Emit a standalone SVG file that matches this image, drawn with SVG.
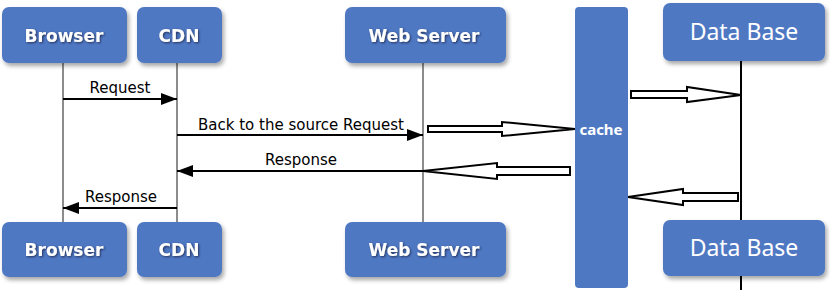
<svg xmlns="http://www.w3.org/2000/svg" width="830" height="292" viewBox="0 0 830 292">
<style>
.box{fill:#4f78c3;}
.lbl{font-family:"DejaVu Sans",Verdana,sans-serif;font-weight:bold;font-size:17px;fill:#ffffff;text-anchor:middle;}
.db{font-family:"Noto Sans","Open Sans",sans-serif;font-size:23px;fill:#ffffff;text-anchor:middle;}
.life{stroke:#8c8c8c;stroke-width:2;fill:none;}
.msg{stroke:#000000;stroke-width:2;fill:none;}
.mt{font-family:"DejaVu Sans",Tahoma,sans-serif;font-size:15px;fill:#000000;text-anchor:middle;}
.blk{fill:#ffffff;stroke:#000000;stroke-width:2;stroke-linejoin:miter;}
</style>
<defs>
<filter id="sh" x="-10%" y="-10%" width="125%" height="135%">
<feDropShadow dx="2" dy="3" stdDeviation="2" flood-color="#000000" flood-opacity="0.35"/>
</filter>
<filter id="ts" x="-10%" y="-20%" width="130%" height="160%">
<feDropShadow dx="1" dy="1" stdDeviation="0.8" flood-color="#1a2a50" flood-opacity="0.9"/>
</filter>
<marker id="ah" viewBox="0 0 16 12" refX="16" refY="6" markerWidth="16" markerHeight="12" markerUnits="userSpaceOnUse" orient="auto">
<path d="M0,0 L16,6 L0,12 Z" fill="#000000"/>
</marker>
</defs>
<rect width="830" height="292" fill="#ffffff"/>
<g id="connectors">
<line class="life" x1="63" y1="63" x2="63" y2="222"/>
<line class="life" x1="177" y1="63" x2="177" y2="222"/>
<line class="life" x1="423" y1="63" x2="423" y2="222"/>
<line x1="741" y1="61" x2="741" y2="222" stroke="#000000" stroke-width="2"/>
<line x1="741" y1="276" x2="741" y2="290" stroke="#000000" stroke-width="2"/>
<line class="msg" x1="63" y1="99" x2="177" y2="99" marker-end="url(#ah)"/>
<text class="mt" x="120" y="93">Request</text>
<line class="msg" x1="177" y1="135" x2="423" y2="135" marker-end="url(#ah)"/>
<text class="mt" x="301" y="130">Back to the source Request</text>
<line class="msg" x1="423" y1="171" x2="177" y2="171" marker-end="url(#ah)"/>
<text class="mt" x="301" y="165">Response</text>
<line class="msg" x1="177" y1="208" x2="63" y2="208" marker-end="url(#ah)"/>
<text class="mt" x="121" y="202">Response</text>
<path class="blk" d="M428,126 L502,126 L502,122 L575,129 L502,136 L502,132 L428,132 Z"/>
<path class="blk" d="M570,167 L497,167 L497,163 L423,171 L497,179 L497,175 L570,175 Z"/>
<path class="blk" d="M631,91 L687,91 L687,87 L741,95 L687,102 L687,98 L631,98 Z"/>
<path class="blk" d="M738,193 L683,193 L683,189 L628,197 L683,205 L683,201 L738,201 Z"/>
</g>
<g id="browser-top">
<rect class="box" x="2" y="7" width="125" height="56" rx="7" filter="url(#sh)"/>
<text class="lbl" x="64" y="42" filter="url(#ts)">Browser</text>
</g>
<g id="cdn-top">
<rect class="box" x="137" y="7" width="85" height="56" rx="7" filter="url(#sh)"/>
<text class="lbl" x="179" y="42" filter="url(#ts)">CDN</text>
</g>
<g id="webserver-top">
<rect class="box" x="345" y="7" width="161" height="56" rx="7" filter="url(#sh)"/>
<text class="lbl" x="424" y="42" filter="url(#ts)">Web Server</text>
</g>
<g id="cache">
<rect class="box" x="575" y="7" width="53" height="281" rx="4"/>
<text x="601" y="135" font-family="'Noto Sans','Open Sans',sans-serif" font-weight="bold" font-size="15" fill="#ffffff" text-anchor="middle">cache</text>
</g>
<g id="database-top">
<rect class="box" x="663" y="3" width="162" height="58" rx="7" filter="url(#sh)"/>
<text class="db" x="744" y="40">Data Base</text>
</g>
<g id="browser-bottom">
<rect class="box" x="2" y="222" width="125" height="55" rx="7" filter="url(#sh)"/>
<text class="lbl" x="64" y="256" filter="url(#ts)">Browser</text>
</g>
<g id="cdn-bottom">
<rect class="box" x="137" y="222" width="85" height="55" rx="7" filter="url(#sh)"/>
<text class="lbl" x="179" y="256" filter="url(#ts)">CDN</text>
</g>
<g id="webserver-bottom">
<rect class="box" x="345" y="222" width="161" height="55" rx="7" filter="url(#sh)"/>
<text class="lbl" x="424" y="256" filter="url(#ts)">Web Server</text>
</g>
<g id="database-bottom">
<rect class="box" x="663" y="220" width="162" height="56" rx="7" filter="url(#sh)"/>
<text class="db" x="744" y="256">Data Base</text>
</g>
</svg>
